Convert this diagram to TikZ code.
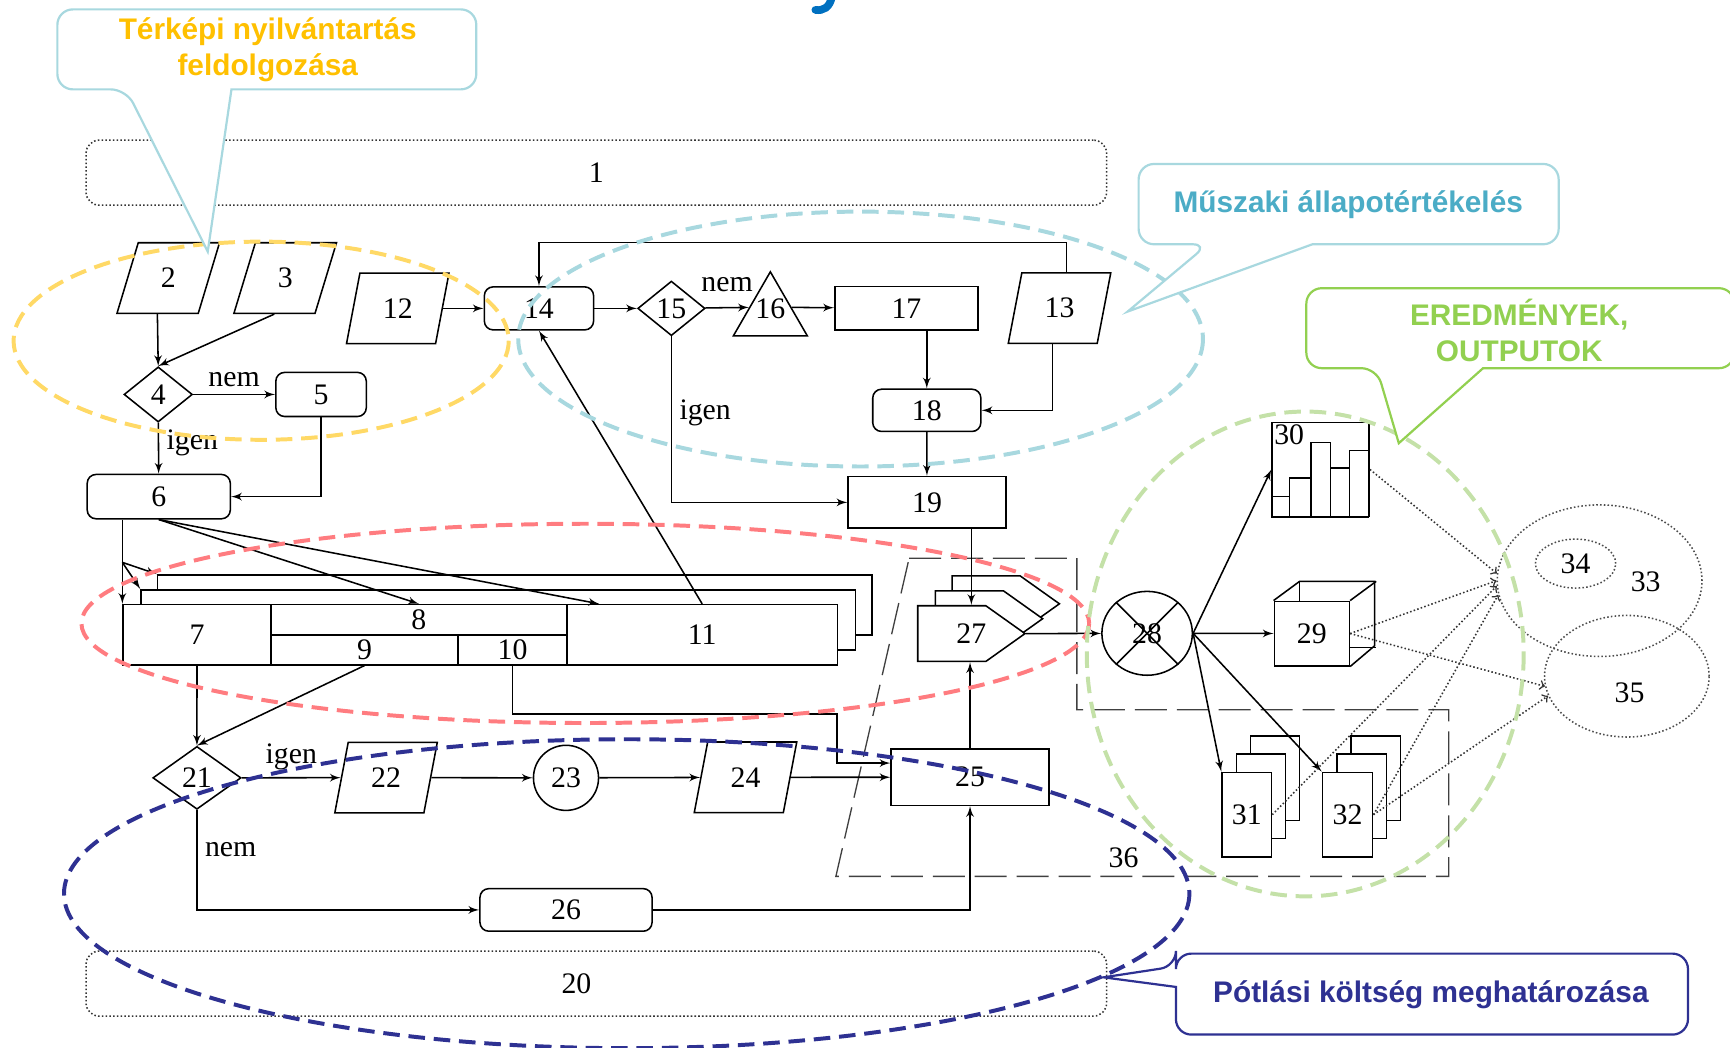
\documentclass[tikz,border=0pt]{standalone}
\usepackage{fontspec}
\setmainfont{Liberation Serif}
\setsansfont{Liberation Sans}
\usetikzlibrary{arrows}
\usetikzlibrary{calc}
\usetikzlibrary{positioning}
\usetikzlibrary{shapes}
\usetikzlibrary{shapes.geometric}

\definecolor{mapyellow}{HTML}{FFD966}
\definecolor{maptext}{HTML}{FFC000}
\definecolor{techteal}{HTML}{A8D8DF}
\definecolor{techtext}{HTML}{4BACC6}
\definecolor{costred}{HTML}{FF7C80}
\definecolor{costnavy}{HTML}{2E3192}
\definecolor{resgreen}{HTML}{C4E1A8}
\definecolor{restext}{HTML}{92D050}
\definecolor{titleblue}{HTML}{0070C0}

\begin{document}
\begin{tikzpicture}[x=0.5pt,y=-0.5pt,line width=0.7pt,font=\fontsize{13.5}{16}\selectfont]
        \tikzset{flow_edge/.style = {->,> = latex',color=black}}
        \tikzset{res_edge/.style = {->,> = to,color=black!80,densely dotted}}
        \tikzset{proc_box/.style = {draw,rectangle,inner sep=0pt,fill=white}}
        \tikzset{round_box/.style = {proc_box,rounded corners=4pt}}
        \tikzset{io_box/.style = {draw,trapezium,trapezium left angle=75,trapezium right angle=105,trapezium stretches=true,minimum width=46.5pt,minimum height=32pt,inner sep=0pt}}
        \tikzset{dec_box/.style = {draw,diamond,inner sep=0pt,fill=white}}
        \tikzset{zone_box/.style = {draw=black!80,densely dotted,rounded corners=6pt,minimum width=462.5pt,minimum height=29.5pt,inner sep=0pt}}
        \tikzset{set_line/.style = {draw=black!70,densely dotted,ellipse,inner sep=0pt}}
        \tikzset{group_line/.style = {color=black!75,line width=0.6pt,dash pattern=on 14.5pt off 4.5pt}}
        \tikzset{zone_line/.style = {line width=1.8pt,dash pattern=on 7.5pt off 4pt}}
        \tikzset{callout_line/.style = {line width=1pt,fill=white,rounded corners=7pt}}
        \tikzset{callout_text/.style = {font=\sffamily\bfseries\fontsize{13.5}{16.3}\selectfont,align=center}}

    \useasboundingbox (0,0) rectangle (1568,949);
    \draw[titleblue,line width=3.5pt,line cap=round] (754,-3) .. controls (752,7) and (746,10) .. (739,9);

    % bands
    \node[zone_box] (n1) at (540.5,156.5) {1};
    \node[zone_box] (n20) at (540.5,891.5) {};
    \node (n20lab) at (522.5,891.5) {20};

    % upper part
    \node[io_box] (n2) at (152.5,252) {2};
    \node[io_box] (n3) at (258.5,252) {3};
    \node[io_box] (n12) at (360.5,279.5) {12};
    \node[io_box] (n13) at (960.3,279.3) {13};
    \node[dec_box,minimum width=31pt,minimum height=25pt] (n4) at (143.4,357.5) {4};
    \node[round_box,minimum width=41pt,minimum height=20pt] (n5) at (291,357.5) {5};
    \node[round_box,minimum width=64.85pt,minimum height=20.1pt] (n6) at (143.9,450.1) {6};
    \node[round_box,minimum width=49.5pt,minimum height=19.5pt] (n14) at (488.5,279.5) {14};
    \node[dec_box,minimum width=30.5pt,minimum height=24.75pt] (n15) at (608.5,279.5) {15};
    \node[draw,regular polygon,regular polygon sides=3,minimum size=38.65pt,inner sep=0pt,label={[yshift=2.5pt]center:16}] (n16) at (698.2,285) {};
    \node[proc_box,minimum width=65pt,minimum height=19.65pt] (n17) at (821.6,279.4) {17};
    \node[round_box,minimum width=49pt,minimum height=19.15pt] (n18) at (840,371.9) {18};
    \node[proc_box,minimum width=71.5pt,minimum height=23.4pt] (n19) at (840.2,455.3) {19};

    % register stack 7-11
    \node[proc_box,minimum width=323.7pt,minimum height=27.25pt] (n7c) at (466.5,548.25) {};
    \node[proc_box,minimum width=323.7pt,minimum height=27.25pt] (n7b) at (451.5,561.75) {};
    \node[proc_box,minimum width=66.95pt,minimum height=27.25pt] (n7) at (178.55,575.25) {7};
    \node[proc_box,minimum width=134.15pt,minimum height=13.65pt] (n8) at (379.65,561.65) {8};
    \node[proc_box,minimum width=84.9pt,minimum height=13.6pt] (n9) at (330.4,588.9) {9};
    \node[proc_box,minimum width=49.25pt,minimum height=13.6pt] (n10) at (464.55,588.9) {10};
    \node[proc_box,minimum width=122.6pt,minimum height=27.25pt] (n11) at (636.4,575.25) {11};

    % lower part
    \node[dec_box,minimum width=40pt,minimum height=28.5pt] (n21) at (178.5,705) {21};
    \node[io_box] (n22) at (349.9,704.8) {22};
    \node[draw,circle,minimum size=29.5pt,inner sep=0pt] (n23) at (513,705) {23};
    \node[io_box] (n24) at (675.7,704.5) {24};
    \node[proc_box,minimum width=71.5pt,minimum height=25.5pt] (n25) at (879.2,704.4) {25};
    \node[round_box,minimum width=78pt,minimum height=19.3pt] (n26) at (513,824.7) {26};

    % group 36
    \draw[group_line] (824,505.9) -- (976,505.9) -- (976,643.3) -- (1313,643.3) -- (1313,794.3) -- (757.6,794.3) -- cycle;
    \node (n36) at (1018.4,777.6) {36};

    % 27
    \foreach \dx/\dy in {31.2/-27,16/-13.5,0/0}
        \draw[fill=white,shift={(\dx,\dy)}] (831.8,549) -- (893.5,549) -- (929,574.25) -- (893.5,599.5) -- (831.8,599.5) -- cycle;
    \node[inner sep=0pt,minimum width=48.6pt,minimum height=25.25pt] (n27) at (880.4,574.25) {27};

    % outputs
    \node[draw,ellipse,minimum width=41pt,minimum height=38pt,inner sep=0pt] (n28) at (1039.7,574) {28};
    \draw (n28.45) -- (n28.225);
    \draw (n28.135) -- (n28.315);
    \node[proc_box,minimum width=34pt,minimum height=29.2pt] (n29) at (1189,574.2) {29};
    \draw (n29.north west) -- ++(23.6,-17.4) -- ++(68,0) -- ++(0,58.4) -- (n29.south east);
    \draw (n29.north east) -- ++(23.6,-17.4);
    \draw ($(n29.north west)+(23.6,-17.4)$) -- ++(0,17.4);
    \draw ($(n29.south east)+(0,-17.4)$) -- ++(23.6,0);
    \node[proc_box,minimum width=44pt,minimum height=42.5pt,label={[anchor=north west,inner sep=1pt]north west:30}] (n30) at (1197,425.5) {};
    \foreach \bx/\bw/\bh in {0/16.4/18.6,16.4/19.3/35.5,35.7/17.8/67.8,53.5/17.5/44.5,71/17/60.3}
        \draw ($(n30.south west)+(\bx,0)$) rectangle ++(\bw,-\bh);
    \node[proc_box,minimum width=22.2pt,minimum height=38.35pt] (n31c) at (1155.6,705.2) {};
    \node[proc_box,minimum width=22.2pt,minimum height=38.35pt] (n31b) at (1142.8,721.8) {};
    \node[proc_box,minimum width=22.4pt,minimum height=38.35pt] (n31) at (1130,738.4) {31};
    \node[proc_box,minimum width=22.4pt,minimum height=38.35pt] (n32c) at (1247,705.2) {};
    \node[proc_box,minimum width=22.4pt,minimum height=38.35pt] (n32b) at (1234.2,721.8) {};
    \node[proc_box,minimum width=22.75pt,minimum height=38.35pt] (n32) at (1221.4,738.4) {32};
    \node[set_line,minimum width=92.8pt,minimum height=68.7pt] (n33) at (1449.8,526.3) {};
    \node (n33lab) at (1491.6,527) {33};
    \node[set_line,minimum width=36.4pt,minimum height=22.2pt] (n34) at (1428,510.8) {34};
    \node[set_line,minimum width=74.6pt,minimum height=55.1pt] (n35) at (1474.5,612.9) {};
    \node (n35lab) at (1477,628) {35};

    % connectors
    \draw[flow_edge] (n2.bottom side) -- (n4.north);
    \draw[flow_edge] (n3.bottom side) -- (n4.north);
    \draw[flow_edge] (n4) -- node[above]{nem} (n5);
    \draw[flow_edge] (n4) -- node[right,pos=0.4]{igen} (n6);
    \draw[flow_edge] (n5) |- (n6);
    \draw[flow_edge] (n12) -- (n14);
    \draw[flow_edge] (n14) -- (n15);
    \draw[flow_edge] (n15) -- node[above=3.6pt]{nem} ($(n16.corner 1)!0.56!(n16.corner 2)$);
    \draw[flow_edge] ($(n16.corner 1)!0.56!(n16.corner 3)$) -- (n17);
    \draw[flow_edge] (n15) |- node[right,pos=0.23]{igen} (n19);
    \draw[flow_edge] (n17.south -| n18.north) -- (n18.north);
    \draw[flow_edge] (n13.bottom side) |- (n18);
    \draw[flow_edge] (n13.top side) -- ++(0,-27) -| (n14.north);
    \draw[flow_edge] (n18) -- (n19);
    \draw[flow_edge] (n11.north) -- (n14.south);
    \draw[flow_edge] (n6.south -| n7.north west) -- (n7.north west);
    \coordinate (fork6) at ($(n7.north west)+(0,-37.6)$);
    \draw[flow_edge] (fork6) -- (n7c.north west);
    \draw[flow_edge] (fork6) -- (n7b.north west);
    \draw[flow_edge] (n6.south) -- (n8.north);
    \draw[flow_edge] (n6.south) -- ($(n11.north west)+(30,0)$);
    \draw[flow_edge] (n7.south) -- (n21.north);
    \draw[flow_edge] (n9.south) -- (n21.north);
    \draw[flow_edge] (n10.south) -- ++(0,43.8) -| ($(n25.west)+(-48.6,-12.8)$) -- ($(n25.west)+(0,-12.8)$);
    \draw[flow_edge] (n21) -- node[above]{igen} (n22);
    \draw[flow_edge] (n21) |- node[right,pos=0.2]{nem} (n26);
    \draw[flow_edge] (n22) -- (n23);
    \draw[flow_edge] (n23) -- (n24);
    \draw[flow_edge] (n24) -- (n25);
    \draw[flow_edge] (n26) -| (n25);
    \draw[flow_edge] (n25.north) -- (n25.north |- n27.south);
    \draw[flow_edge] (n19.south -| n27.north) -- (n27.north);
    \draw[flow_edge] (n27.east) -- (n28);
    \draw[flow_edge] (n28.east) -- (n29);
    \draw[flow_edge] (n28.east) -- (n30.west);
    \draw[flow_edge] (n28.east) -- (n31.north west);
    \draw[flow_edge] (n28.east) -- (n32.north west);
    \draw[res_edge] (n30.east) -- (n33.176);
    \draw[res_edge] (n29.east) -- (n33.west);
    \draw[res_edge] (n29.east) -- (n35.187);
    \draw[res_edge] (n31.east) -- (n33.183);
    \draw[res_edge] (n32.east) -- (n33.188);
    \draw[res_edge] (n32.east) -- (n35.194);

    % highlighted zones
    \draw[zone_line,mapyellow] (236.7,308.8) ellipse [x radius=224.4,y radius=89.8];
    \draw[zone_line,techteal] (780,307.3) ellipse [x radius=310.3,y radius=115.5];
    \draw[zone_line,costred] (530.5,565) ellipse [x radius=456.7,y radius=90.3];
    \draw[zone_line,costnavy] (568,810) ellipse [x radius=510,y radius=140];
    \draw[zone_line,resgreen] (1183,592.7) ellipse [x radius=198,y radius=219.7];

    % callouts
    \draw[callout_line,draw=techteal] (209.8,81) -- (431.7,81) -- (431.7,8.5) -- (52,8.5) -- (52,81) -- (114.4,81) [sharp corners] -- (188.3,228) -- cycle;
    \node[callout_text,text=maptext] (cl_map) at (242.7,45.3) {Térképi nyilvántartás\\feldolgozása};
    \draw[callout_line,draw=techteal] (1189.5,221.4) -- (1412.7,221.4) -- (1412.7,148.6) -- (1032,148.6) -- (1032,221.4) -- (1094.9,221.4) [sharp corners] -- (1022,282.4) -- cycle;
    \node[callout_text,text=techtext] (cl_tech) at (1222,185.7) {Műszaki állapotértékelés};
    \draw[callout_line,draw=restext] (1344.2,333.7) -- (1572,333.7) -- (1572,261.2) -- (1184,261.2) -- (1184,333.7) -- (1247.8,333.7) [sharp corners] -- (1267.8,401.7) -- cycle;
    \node[callout_text,text=restext] (cl_res) at (1377,299.7) {EREDMÉNYEK,\\OUTPUTOK};
    \draw[callout_line,draw=costnavy] (1065.8,894.5) -- (1065.8,937.7) -- (1529.9,937.7) -- (1529.9,864.3) -- (1065.8,864.3) -- (1065.8,875.8) [sharp corners] -- (1000.2,885.8) -- cycle;
    \node[callout_text,text=costnavy] (cl_cost) at (1296.9,901.5) {Pótlási költség meghatározása};
\end{tikzpicture}
\end{document}
